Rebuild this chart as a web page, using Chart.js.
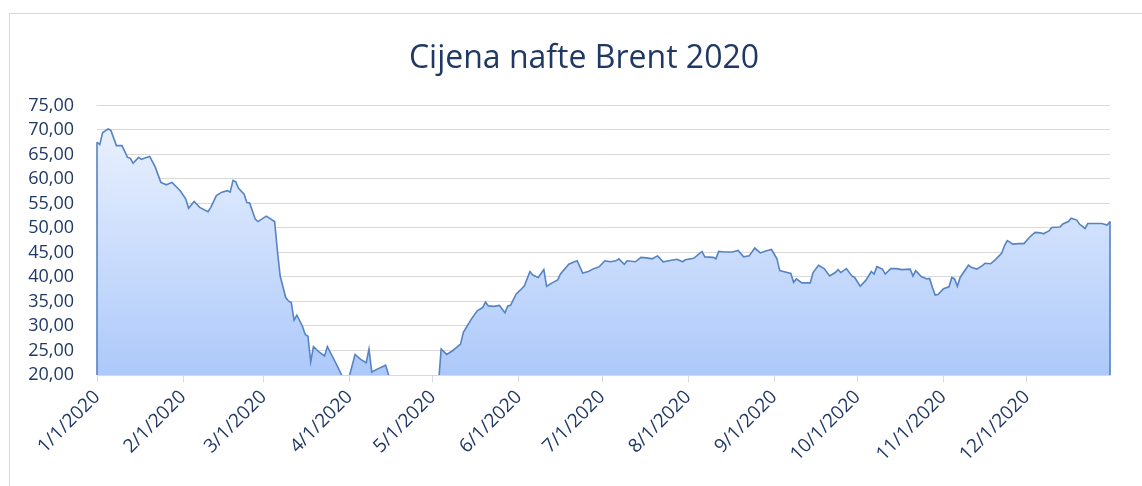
<!DOCTYPE html>
<html>
<head>
<meta charset="utf-8">
<script src="https://cdn.jsdelivr.net/npm/chart.js@4"></script>
<style>
  html, body { margin: 0; padding: 0; background: #fff; overflow: hidden; }
  #box {
    position: absolute; left: 9px; top: 13px; width: 1200px; height: 500px;
    border-left: 1px solid #d9d9d9; border-top: 1px solid #d9d9d9;
  }
  #wrap { position: absolute; left: 0; top: 0; width: 1168px; height: 486px; }
</style>
</head>
<body>
<div id="box"></div>
<div id="wrap"><canvas id="brent"></canvas></div>
<script>
// Brent price 2020 (day of year, 0 = 1 Jan)
var days = [0, 1, 2, 4, 5, 7, 9, 11, 12, 13, 15, 16, 17, 19, 21, 23, 25, 27, 30, 32,
  33, 35, 37, 40, 41, 43, 45, 47, 48, 49, 50, 51, 53, 54, 55, 57, 58, 61, 64, 65,
  66, 68, 69, 70, 71, 72, 74, 75, 76, 77, 78, 80, 82, 83, 86, 89, 90, 93, 95, 97,
  98, 99, 101, 104, 105, 107, 109, 111, 113, 116, 118, 120, 123, 124, 126, 128, 131, 132, 135, 137,
  139, 140, 141, 143, 145, 147, 148, 149, 151, 153, 154, 156, 157, 159, 161, 162, 164, 166, 167, 170,
  172, 173, 175, 177, 179, 181, 183, 185, 187, 188, 190, 191, 194, 196, 198, 200, 202, 204, 206, 209,
  211, 212, 215, 218, 219, 222, 223, 224, 226, 229, 231, 233, 235, 237, 239, 241, 243, 245, 246, 248,
  250, 251, 252, 254, 257, 258, 260, 262, 264, 266, 267, 268, 270, 272, 273, 275, 277, 279, 280, 281,
  283, 284, 286, 288, 290, 293, 294, 295, 297, 299, 300, 301, 302, 303, 305, 307, 308, 309, 310, 311,
  314, 315, 317, 319, 320, 322, 324, 326, 327, 328, 330, 332, 334, 336, 338, 340, 341, 343, 344, 347,
  348, 350, 351, 353, 354, 356, 357, 360, 362, 364, 365];
var prices = [67.5, 67.0, 69.4, 70.2, 69.9, 66.8, 66.8, 64.4, 64.2, 63.2, 64.4, 64.0, 64.2, 64.6, 62.4, 59.3, 58.8, 59.3, 57.6, 55.9,
  54.0, 55.4, 54.2, 53.3, 54.2, 56.6, 57.3, 57.6, 57.3, 59.7, 59.4, 58.1, 56.9, 55.2, 55.1, 51.8, 51.3, 52.4, 51.3, 45.4,
  40.2, 35.8, 35.1, 34.8, 31.2, 32.2, 30.0, 28.3, 27.9, 22.7, 25.8, 24.7, 23.9, 25.8, 22.5, 19.0, 17.8, 24.2, 23.2, 22.5,
  25.3, 20.6, 21.2, 22.0, 20.1, 18.5, 16.5, 13.0, 15.0, 16.0, 14.5, 17.0, 17.9, 25.3, 24.2, 24.9, 26.3, 28.7, 31.5, 33.1,
  33.8, 34.9, 34.1, 34.0, 34.2, 32.7, 34.1, 34.2, 36.5, 37.6, 38.2, 41.1, 40.4, 39.9, 41.5, 38.1, 38.8, 39.4, 40.6, 42.6,
  43.1, 43.3, 40.8, 41.1, 41.7, 42.1, 43.3, 43.1, 43.3, 43.7, 42.6, 43.3, 43.1, 44.0, 43.9, 43.7, 44.3, 43.1, 43.3, 43.6,
  43.1, 43.5, 43.8, 45.2, 44.1, 44.0, 43.7, 45.2, 45.1, 45.1, 45.4, 44.1, 44.3, 45.9, 44.9, 45.3, 45.6, 43.7, 41.3, 41.0,
  40.7, 38.9, 39.6, 38.8, 38.8, 40.9, 42.4, 41.7, 40.2, 40.9, 41.5, 40.9, 41.7, 40.2, 39.9, 38.1, 39.3, 41.1, 40.6, 42.1,
  41.6, 40.6, 41.7, 41.7, 41.5, 41.6, 40.2, 41.3, 40.1, 39.6, 39.7, 37.9, 36.3, 36.4, 37.6, 38.0, 39.9, 39.6, 38.1, 39.9,
  42.4, 42.0, 41.6, 42.3, 42.8, 42.7, 43.7, 44.9, 46.4, 47.4, 46.7, 46.8, 46.8, 48.1, 49.1, 49.0, 48.8, 49.4, 50.1, 50.2,
  50.8, 51.3, 52.0, 51.6, 50.8, 49.9, 50.9, 50.9, 50.9, 50.6, 51.3];

var monthTicks = [0, 31, 60, 91, 121, 152, 182, 213, 244, 274, 305, 335];
var monthLabels = ["1/1/2020", "2/1/2020", "3/1/2020", "4/1/2020", "5/1/2020", "6/1/2020",
  "7/1/2020", "8/1/2020", "9/1/2020", "10/1/2020", "11/1/2020", "12/1/2020"];

var navy = "#1f3864";
var lineBlue = "#5583c3";

var points = days.map(function(d, i) { return { x: d, y: prices[i] }; });

// Excel draws the area's side edges down to the axis
var edgePlugin = {
  id: "areaEdges",
  afterDatasetsDraw: function(chart) {
    var pts = chart.getDatasetMeta(0).data;
    var bottom = chart.chartArea.bottom;
    var ctx = chart.ctx;
    ctx.save();
    ctx.strokeStyle = lineBlue;
    ctx.lineWidth = 1.6;
    [pts[0], pts[pts.length - 1]].forEach(function(p) {
      ctx.beginPath();
      ctx.moveTo(p.x, p.y);
      ctx.lineTo(p.x, bottom);
      ctx.stroke();
    });
    ctx.restore();
  }
};

function areaGradient(context) {
  var chart = context.chart;
  var area = chart.chartArea;
  if (!area) return "#c6dafc";
  var g = chart.ctx.createLinearGradient(0, area.top, 0, area.bottom);
  g.addColorStop(0, "#eef4ff");
  g.addColorStop(1, "#adc9fa");
  return g;
}

var ctx = document.getElementById("brent").getContext("2d");
new Chart(ctx, {
  type: "line",
  data: {
    datasets: [{
      label: "Brent",
      data: points,
      borderColor: lineBlue,
      borderWidth: 1.6,
      backgroundColor: areaGradient,
      fill: "start",
      pointRadius: 0,
      tension: 0,
      clip: { left: 2, right: 2, top: 2, bottom: 0 }
    }]
  },
  options: {
    responsive: true,
    maintainAspectRatio: false,
    animation: false,
    layout: { padding: 0 },
    plugins: {
      legend: { display: false },
      tooltip: { enabled: false },
      title: {
        display: true,
        text: "Cijena nafte Brent 2020",
        color: navy,
        font: { family: "'Open Sans'", size: 32, weight: "normal" },
        padding: { top: 40, bottom: 27 }
      }
    },
    scales: {
      x: {
        type: "linear",
        min: 0,
        max: 365,
        afterFit: function(scale) { scale.height = 111; },
        afterBuildTicks: function(scale) {
          scale.ticks = monthTicks.map(function(v) { return { value: v }; });
        },
        grid: { drawOnChartArea: false, color: "#d9d9d9", tickLength: 7 },
        border: { color: "#d9d9d9" },
        ticks: {
          autoSkip: false,
          minRotation: 45,
          maxRotation: 45,
          padding: 4,
          color: navy,
          font: { family: "'Open Sans'", size: 19 },
          callback: function(value, index) { return monthLabels[index]; }
        }
      },
      y: {
        min: 20,
        max: 75,
        afterFit: function(scale) { scale.width = 97; },
        grid: { color: "#d9d9d9", drawTicks: false },
        border: { display: false },
        ticks: {
          stepSize: 5,
          autoSkip: false,
          padding: 23,
          color: navy,
          font: { family: "'Open Sans'", size: 18 },
          callback: function(value) { return value.toFixed(2).replace(".", ","); }
        }
      },
      // empty right-hand axis: keeps the plot ending at 1110px
      spacer: {
        position: "right",
        min: 0,
        max: 1,
        afterFit: function(scale) { scale.width = 58; },
        grid: { display: false },
        border: { display: false },
        ticks: { display: false }
      }
    }
  },
  plugins: [edgePlugin]
});
</script>
</body>
</html>
